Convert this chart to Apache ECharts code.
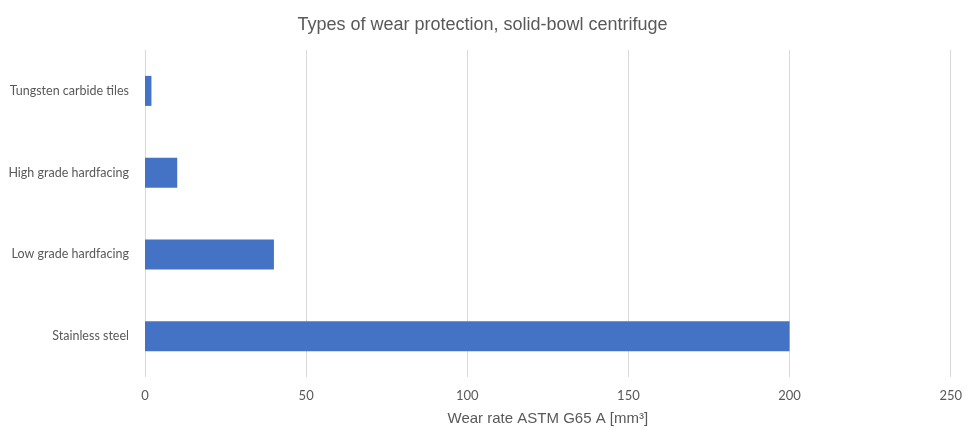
<!DOCTYPE html>
<html>
<head>
<meta charset="utf-8">
<script src="https://cdn.jsdelivr.net/npm/echarts@6/dist/echarts.min.js"></script>
<style>
html,body{margin:0;padding:0;background:#fff;overflow:hidden;}
#chart{width:965px;height:431px;}
</style>
</head>
<body>
<div id="chart"></div>
<script>
const categories = ['Tungsten carbide tiles', 'High grade hardfacing', 'Low grade hardfacing', 'Stainless steel'];
const wearRate = [2, 10, 40, 200];
const xTicks = { min: 0, max: 250, interval: 50 };

const chart = echarts.init(document.getElementById('chart'), null, { renderer: 'canvas' });
chart.setOption({
  animation: false,
  backgroundColor: '#ffffff',
  title: {
    text: 'Types of wear protection, solid-bowl centrifuge',
    left: 'center',
    top: 11,
    textStyle: { fontFamily: 'Liberation Sans, Arial, sans-serif', fontSize: 18, fontWeight: 'normal', color: '#595959' }
  },
  grid: { left: 145, right: 8, top: 50, bottom: 50, containLabel: false },
  xAxis: {
    type: 'value',
    min: xTicks.min, max: xTicks.max, interval: xTicks.interval,
    name: 'Wear rate ASTM G65 A [mm³]',
    nameLocation: 'middle',
    nameGap: 34,
    nameTextStyle: { fontFamily: 'Liberation Sans, Arial, sans-serif', fontSize: 15, color: '#595959' },
    axisLine: { show: false },
    axisTick: { show: false },
    axisLabel: { fontFamily: 'Lato, sans-serif', fontSize: 13, color: '#595959', margin: 12 },
    splitLine: { show: true, lineStyle: { color: '#d9d9d9', width: 1 } }
  },
  yAxis: {
    type: 'category',
    data: categories,
    inverse: true,
    axisLine: { show: false },
    axisTick: { show: false },
    axisLabel: { fontFamily: 'Lato, sans-serif', fontSize: 12.5, color: '#595959', margin: 16 },
    splitLine: { show: false }
  },
  series: [{
    type: 'bar',
    data: wearRate,
    barWidth: 30,
    itemStyle: { color: '#4472C4' }
  }]
});
</script>
</body>
</html>
